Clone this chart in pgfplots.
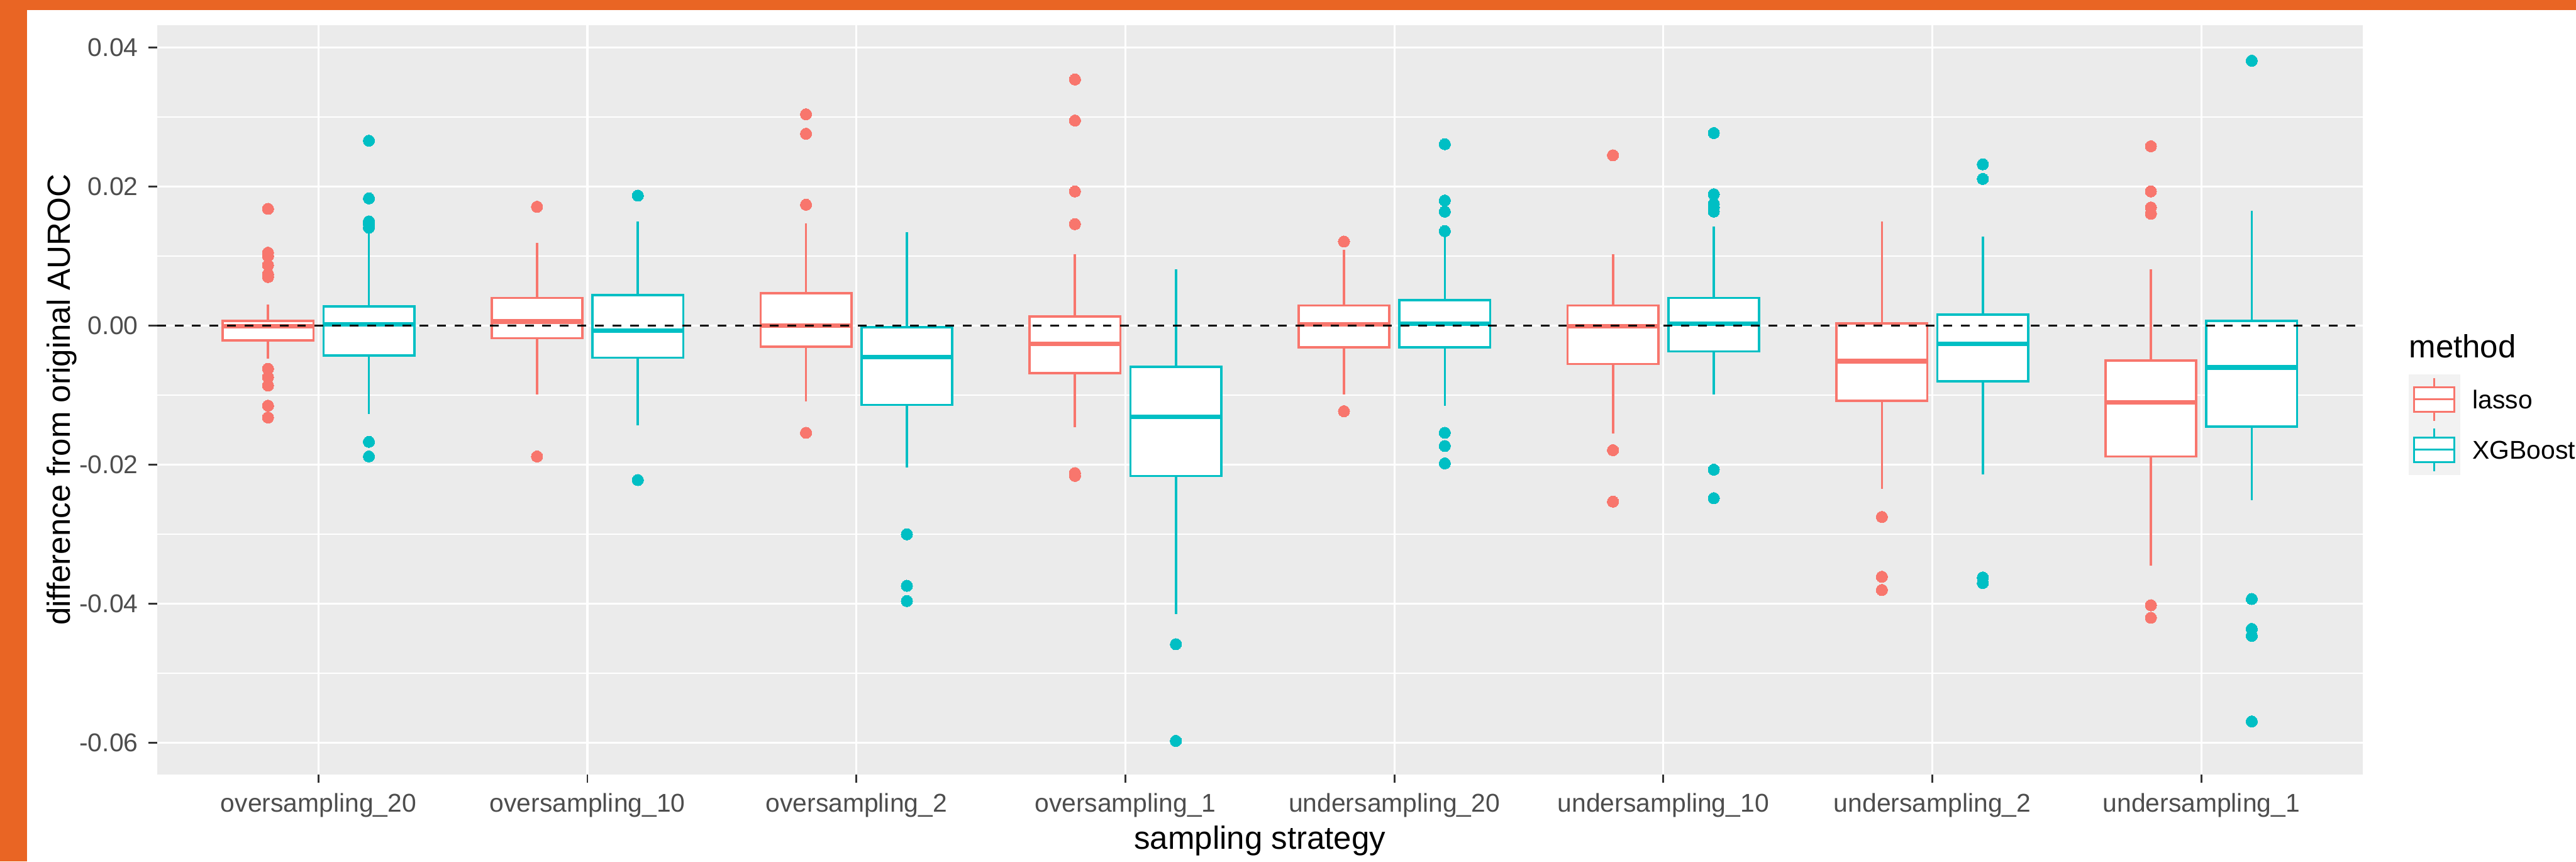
\documentclass[border=0pt]{standalone}
\usepackage{fontspec}
\setmainfont{Liberation Sans}
\usepackage{pgfplots}
\pgfplotsset{compat=1.18}
\definecolor{lassoC}{HTML}{F8766D}
\definecolor{xgbC}{HTML}{00BFC4}
\definecolor{panelC}{HTML}{EBEBEB}
\definecolor{keyC}{HTML}{F2F2F2}
\definecolor{gray20}{HTML}{333333}
\definecolor{gray30}{HTML}{4D4D4D}
\definecolor{orangeC}{RGB}{233,101,36}
% centre, colour, lower whisker, Q1, median, Q3, upper whisker, outliers
\newcommand{\bx}[8]{%
 \pgfmathsetmacro\bL{#1-0.16875}\pgfmathsetmacro\bR{#1+0.16875}%
 \edef\temp{%
 \noexpand\addplot[forget plot, color=#2, line width=0.8pt] coordinates {(#1,#6) (#1,#7)};
 \noexpand\addplot[forget plot, color=#2, line width=0.8pt] coordinates {(#1,#4) (#1,#3)};
 \noexpand\addplot[forget plot, color=#2, line width=0.8pt, fill=white] coordinates {(\bL,#4) (\bR,#4) (\bR,#6) (\bL,#6)} -- cycle;
 \noexpand\addplot[forget plot, color=#2, line width=1.55pt] coordinates {(\bL,#5) (\bR,#5)};
 }\temp
 \addplot[forget plot, color=#2, only marks, mark=*, mark size=1.95pt, mark options={fill=#2, draw=#2, line width=0pt}]
   table[row sep=\\, x expr=#1, y index=0] {y\\ #8};}
\begin{document}
\begin{tikzpicture}
\useasboundingbox (0pt,0pt) rectangle (882.54pt,295.02pt);
\fill[white] (0pt,0pt) rectangle (882.54pt,295.02pt);
\fill[orangeC] (0pt,291.6pt) rectangle (882.54pt,295.02pt);
\fill[orangeC] (0pt,0pt) rectangle (9.36pt,295.02pt);
\begin{axis}[
  at={(53.82pt,29.88pt)}, anchor=south west,
  scale only axis, width=755.64pt, height=256.5pt,
  xmin=0.4, xmax=8.6, ymin=-0.0645, ymax=0.0432,
  axis background/.style={fill=panelC},
  axis line style={draw=none},
  tick pos=left, tick align=outside, major tick length=3pt, minor tick length=0pt,
  tick style={color=gray20, line width=0.6pt},
  xtick={1,2,3,4,5,6,7,8},
  xticklabels={oversampling\_20,oversampling\_10,oversampling\_2,oversampling\_1,undersampling\_20,undersampling\_10,undersampling\_2,undersampling\_1},
  ytick={-0.06,-0.04,-0.02,0,0.02,0.04},
  yticklabels={-0.06,-0.04,-0.02,0.00,0.02,0.04},
  minor ytick={-0.05,-0.03,-0.01,0.01,0.03},
  scaled y ticks=false,
  xmajorgrids, ymajorgrids, yminorgrids,
  major grid style={white, line width=0.7pt},
  minor grid style={white, line width=0.45pt},
  ticklabel style={font=\fontsize{8.8}{10}\selectfont, text=gray30},
  xlabel={sampling strategy},
  xlabel style={at={(axis description cs:0.5,-0.0996)}, anchor=base, font=\fontsize{11}{13}\selectfont},
  ylabel={difference from original AUROC},
  ylabel style={at={(axis description cs:-0.0394,0.5)}, anchor=base, font=\fontsize{11}{13}\selectfont},
  legend style={at={(axis description cs:1.02072,0.53404)}, anchor=north west,
    draw=none, fill=none, inner sep=0pt, outer sep=0pt, row sep=0pt, column sep=4.32pt,
    nodes={inner sep=0pt, text depth=0pt}, font=\fontsize{8.8}{10}\selectfont},
  legend cell align=left,
]
% oversampling_20
\bx{0.8125}{lassoC}{-0.0047}{-0.0021}{-0.0001}{0.0007}{0.0030}{0.0168\\ 0.0105\\ 0.0100\\ 0.0087\\ 0.0074\\ 0.0070\\ -0.0062\\ -0.0074\\ -0.0086\\ -0.0115\\ -0.0132\\}
\bx{1.1875}{xgbC}{-0.0127}{-0.0043}{0.0002}{0.0028}{0.0136}{0.0266\\ 0.0183\\ 0.0150\\ 0.0146\\ 0.0141\\ -0.0167\\ -0.0188\\}
% oversampling_10
\bx{1.8125}{lassoC}{-0.0099}{-0.0018}{0.0006}{0.0040}{0.0119}{0.0171\\ -0.0188\\}
\bx{2.1875}{xgbC}{-0.0143}{-0.0046}{-0.0007}{0.0044}{0.0150}{0.0187\\ -0.0222\\}
% oversampling_2
\bx{2.8125}{lassoC}{-0.0109}{-0.0030}{0.0000}{0.0047}{0.0147}{0.0304\\ 0.0276\\ 0.0174\\ -0.0154\\}
\bx{3.1875}{xgbC}{-0.0204}{-0.0114}{-0.0045}{-0.0002}{0.0134}{-0.0300\\ -0.0374\\ -0.0396\\}
% oversampling_1
\bx{3.8125}{lassoC}{-0.0146}{-0.0068}{-0.0026}{0.0013}{0.0103}{0.0354\\ 0.0295\\ 0.0193\\ 0.0146\\ -0.0212\\ -0.0216\\}
\bx{4.1875}{xgbC}{-0.0415}{-0.0216}{-0.0131}{-0.0059}{0.0081}{-0.0458\\ -0.0597\\}
% undersampling_20
\bx{4.8125}{lassoC}{-0.0099}{-0.0031}{0.0002}{0.0029}{0.0109}{0.0121\\ -0.0123\\}
\bx{5.1875}{xgbC}{-0.0115}{-0.0031}{0.0003}{0.0037}{0.0128}{0.0261\\ 0.0180\\ 0.0164\\ 0.0136\\ -0.0154\\ -0.0173\\ -0.0198\\}
% undersampling_10
\bx{5.8125}{lassoC}{-0.0155}{-0.0055}{-0.0001}{0.0029}{0.0103}{0.0245\\ -0.0179\\ -0.0253\\}
\bx{6.1875}{xgbC}{-0.0099}{-0.0037}{0.0003}{0.0040}{0.0143}{0.0277\\ 0.0189\\ 0.0175\\ 0.0170\\ 0.0164\\ -0.0207\\ -0.0248\\}
% undersampling_2
\bx{6.8125}{lassoC}{-0.0235}{-0.0108}{-0.0051}{0.0003}{0.0150}{-0.0275\\ -0.0361\\ -0.0380\\}
\bx{7.1875}{xgbC}{-0.0214}{-0.0080}{-0.0026}{0.0016}{0.0128}{0.0232\\ 0.0211\\ -0.0362\\ -0.0370\\}
% undersampling_1
\bx{7.8125}{lassoC}{-0.0345}{-0.0188}{-0.0110}{-0.0050}{0.0081}{0.0258\\ 0.0193\\ 0.0170\\ 0.0161\\ -0.0402\\ -0.0420\\}
\bx{8.1875}{xgbC}{-0.0251}{-0.0145}{-0.0060}{0.0007}{0.0165}{0.0381\\ -0.0393\\ -0.0436\\ -0.0446\\ -0.0569\\}
% reference line
\addplot[forget plot, black, line width=0.8pt, dash pattern=on 3pt off 3pt] coordinates {(0.4,0) (8.6,0)};
% legend
\addlegendimage{legend image code/.code={
  \fill[keyC] (0pt,-8.415pt) rectangle (17.28pt,8.415pt);
  \draw[lassoC, line width=0.7pt, fill=white] (1.8pt,-4.23pt) rectangle (15.48pt,4.23pt);
  \draw[lassoC, line width=0.7pt] (1.8pt,0pt) -- (15.48pt,0pt);
  \draw[lassoC, line width=0.7pt] (8.64pt,4.23pt) -- (8.64pt,7.38pt);
  \draw[lassoC, line width=0.7pt] (8.64pt,-4.23pt) -- (8.64pt,-7.38pt);}}
\addlegendentry{lasso}
\addlegendimage{legend image code/.code={
  \fill[keyC] (0pt,-8.415pt) rectangle (17.28pt,8.415pt);
  \draw[xgbC, line width=0.7pt, fill=white] (1.8pt,-4.23pt) rectangle (15.48pt,4.23pt);
  \draw[xgbC, line width=0.7pt] (1.8pt,0pt) -- (15.48pt,0pt);
  \draw[xgbC, line width=0.7pt] (8.64pt,4.23pt) -- (8.64pt,7.38pt);
  \draw[xgbC, line width=0.7pt] (8.64pt,-4.23pt) -- (8.64pt,-7.38pt);}}
\addlegendentry{XGBoost}
\end{axis}
\node[anchor=base west, inner sep=0pt, font=\fontsize{11}{13}\selectfont] at (825.12pt,172.62pt) {method};
\end{tikzpicture}
\end{document}
